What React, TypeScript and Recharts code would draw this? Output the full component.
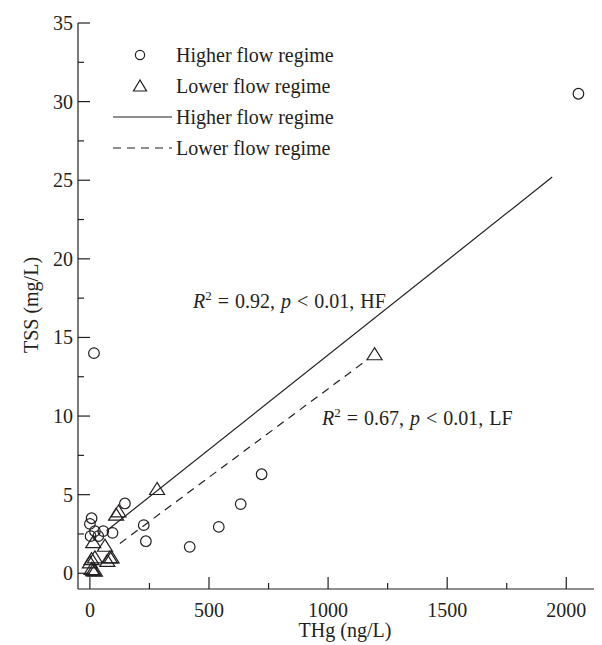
import React from "react";
import { ScatterChart, Scatter, XAxis, YAxis } from "recharts";

// Higher flow regime (circles)
const hfTHg = [2051, 17, 721, 633, 541, 419, 235, 226, 147, 95, 56, 7, 0, 21, 3, 35];
const hfTSS = [30.5, 14.0, 6.3, 4.4, 2.95, 1.68, 2.04, 3.06, 4.44, 2.57, 2.68, 3.5, 3.14, 2.68, 2.36, 2.36];

// Lower flow regime (triangles)
const lfTHg = [1195, 282, 110, 120, 63, 14, 84, 73, 91, 7, 21, 0, 7, 21, 14];
const lfTSS = [13.9, 5.33, 3.7, 3.9, 1.72, 1.95, 0.98, 0.76, 0.98, 0.87, 0.98, 0.66, 0.24, 0.13, 0.17];

// regression line end points
const hfFitX = [70, 1941];
const hfFitY = [2.7, 25.2];
const lfFitX = [126, 1166];
const lfFitY = [1.9, 13.6];

const xTicks = [0, 250, 500, 750, 1000, 1250, 1500, 1750, 2000];
const yTicks = [0, 2.5, 5, 7.5, 10, 12.5, 15, 17.5, 20, 22.5, 25, 27.5, 30, 32.5, 35];

const zip = (xs: number[], ys: number[]) => xs.map((x, i) => ({ x, y: ys[i] }));

const INK = "#231f20";
const FONT = "'Liberation Serif', 'Times New Roman', serif";

const Circle = (p: any) => (
  <circle cx={p.cx} cy={p.cy} r={5.3} fill="none" stroke={INK} strokeWidth={1.2} />
);

const Triangle = (p: any) => (
  <polygon
    points={`${p.cx},${p.cy - 7} ${p.cx - 7.5},${p.cy + 5} ${p.cx + 7.5},${p.cy + 5}`}
    fill="none"
    stroke={INK}
    strokeWidth={1.2}
  />
);

const NoDot = () => <g />;

const BottomTick = (p: any) => {
  const v = p.payload.value;
  const major = v % 500 === 0;
  return (
    <g>
      <line x1={p.x} x2={p.x} y1={p.y} y2={p.y - (major ? 12 : 6)} stroke={INK} strokeWidth={1.2} />
      {major && (
        <text x={p.x} y={p.y + 28} textAnchor="middle" fontSize={20} fontFamily={FONT} fill={INK}>
          {v}
        </text>
      )}
    </g>
  );
};

const TopTick = (p: any) => {
  const major = p.payload.value % 500 === 0;
  return <line x1={p.x} x2={p.x} y1={p.y} y2={p.y + (major ? 12 : 6)} stroke={INK} strokeWidth={1.2} />;
};

const LeftTick = (p: any) => {
  const v = p.payload.value;
  const major = v % 5 === 0;
  return (
    <g>
      <line x1={p.x} x2={p.x + (major ? 12 : 6)} y1={p.y} y2={p.y} stroke={INK} strokeWidth={1.2} />
      {major && (
        <text x={p.x - 5} y={p.y} dy="0.35em" textAnchor="end" fontSize={20} fontFamily={FONT} fill={INK}>
          {v}
        </text>
      )}
    </g>
  );
};

const txt = { fontSize: 20, fontFamily: FONT, fill: INK } as const;

export default function App() {
  return (
    <ScatterChart width={594} height={637} margin={{ top: 15, right: 0, bottom: 0, left: 0 }}>
      <XAxis
        type="number"
        dataKey="x"
        domain={[-50, 2150]}
        ticks={xTicks}
        allowDataOverflow
        height={56}
        tickSize={0}
        tickMargin={0}
        tickLine={false}
        tick={BottomTick}
        axisLine={{ stroke: INK, strokeWidth: 1.2 }}
      />
      <XAxis
        xAxisId="top"
        orientation="top"
        type="number"
        domain={[-50, 2150]}
        ticks={xTicks}
        allowDataOverflow
        height={0}
        tickSize={0}
        tickMargin={0}
        tickLine={false}
        tick={TopTick}
        axisLine={{ stroke: INK, strokeWidth: 1.2 }}
      />
      <YAxis
        type="number"
        dataKey="y"
        domain={[-1, 35]}
        ticks={yTicks}
        allowDataOverflow
        width={70}
        tickSize={0}
        tickMargin={0}
        tickLine={false}
        tick={LeftTick}
        axisLine={{ stroke: INK, strokeWidth: 1.2 }}
      />
      <Scatter data={zip(hfFitX, hfFitY)} line={{ stroke: INK, strokeWidth: 1.2 }} shape={NoDot} isAnimationActive={false} />
      <Scatter
        data={zip(lfFitX, lfFitY)}
        line={{ stroke: INK, strokeWidth: 1.2, strokeDasharray: "8 6" }}
        shape={NoDot}
        isAnimationActive={false}
      />
      <Scatter data={zip(hfTHg, hfTSS)} shape={Circle} isAnimationActive={false} />
      <Scatter data={zip(lfTHg, lfTSS)} shape={Triangle} isAnimationActive={false} />

      {/* legend */}
      <g>
        <circle cx={132} cy={47} r={4.6} fill="none" stroke={INK} strokeWidth={1.2} />
        <text x={168} y={54} {...txt}>Higher flow regime</text>
        <polygon points="132,72 125.5,83 138.5,83" fill="none" stroke={INK} strokeWidth={1.2} />
        <text x={168} y={85} {...txt}>Lower flow regime</text>
        <line x1={105} x2={164} y1={109} y2={109} stroke={INK} strokeWidth={1.2} />
        <text x={168} y={116} {...txt}>Higher flow regime</text>
        <line x1={105} x2={164} y1={140} y2={140} stroke={INK} strokeWidth={1.2} strokeDasharray="8 6" />
        <text x={168} y={147} {...txt}>Lower flow regime</text>
      </g>

      {/* annotations */}
      <text x={185} y={300} wordSpacing={1} {...txt}>
        <tspan fontStyle="italic">R</tspan>
        <tspan dy={-8} fontSize={13}>2</tspan>
        <tspan dy={8}> = 0.92, </tspan>
        <tspan fontStyle="italic">p</tspan>
        <tspan> &lt; 0.01, HF</tspan>
      </text>
      <text x={314} y={417} wordSpacing={1} {...txt}>
        <tspan fontStyle="italic">R</tspan>
        <tspan dy={-8} fontSize={13}>2</tspan>
        <tspan dy={8}> = 0.67, </tspan>
        <tspan fontStyle="italic">p</tspan>
        <tspan> &lt; 0.01, LF</tspan>
      </text>

      {/* axis titles */}
      <text x={23} y={297} transform="rotate(-90 23 297)" textAnchor="middle" dy="0.35em" {...txt}>
        TSS (mg/L)
      </text>
      <text x={337} y={629} textAnchor="middle" {...txt}>
        THg (ng/L)
      </text>
    </ScatterChart>
  );
}
